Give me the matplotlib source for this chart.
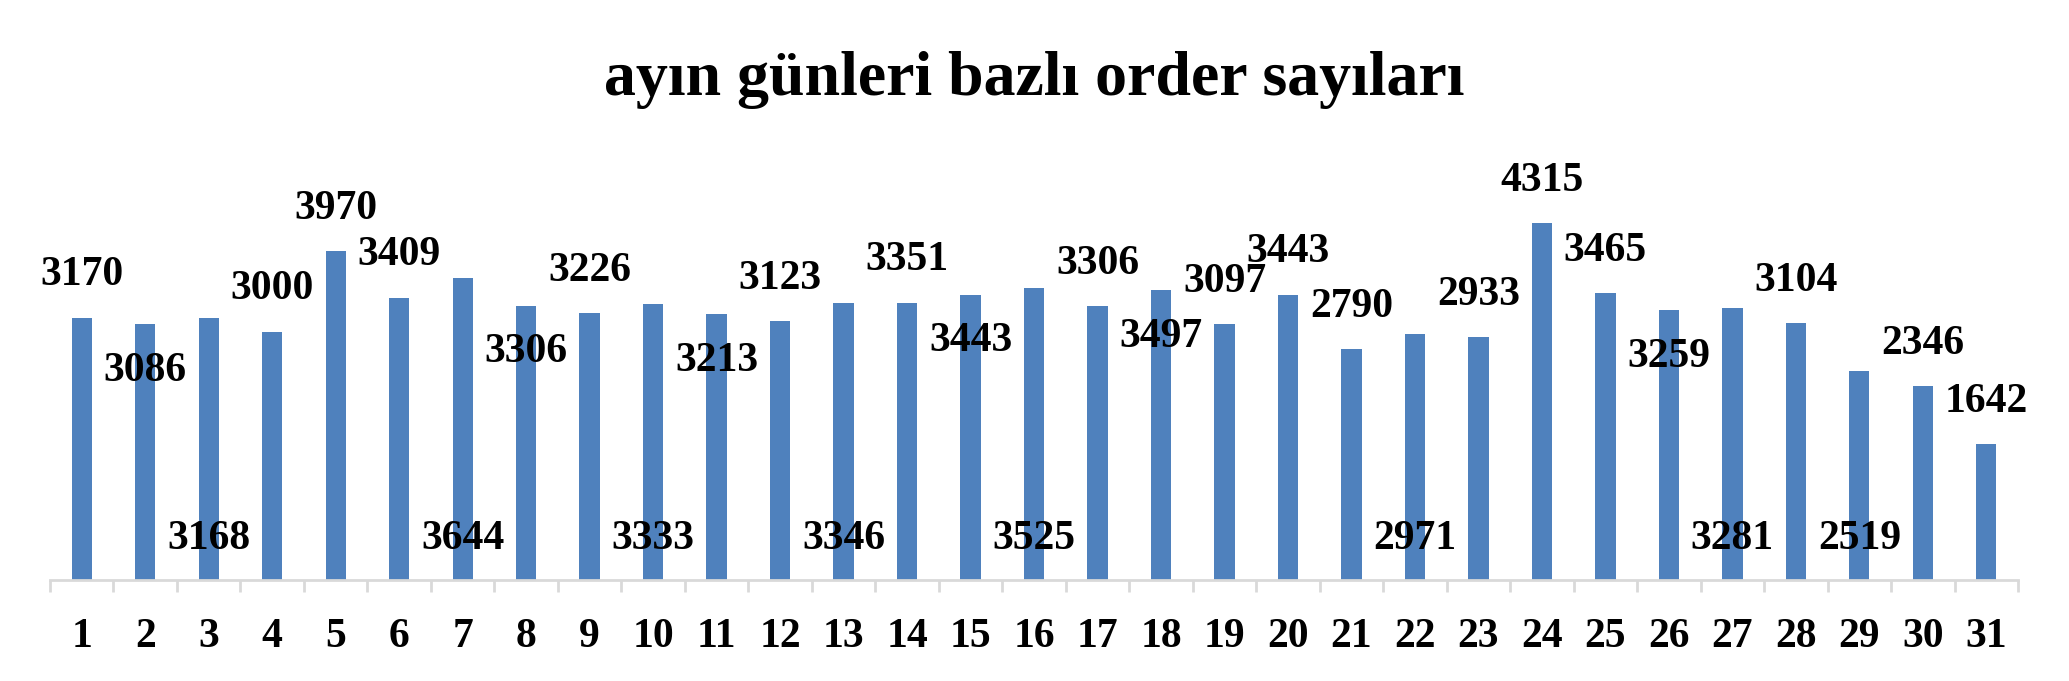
import numpy as np
import matplotlib.pyplot as plt

# gün ve order sayıları
days = [str(d) for d in range(1, 32)]
orders = [3170, 3086, 3168, 3000, 3970, 3409, 3644, 3306, 3226, 3333,
          3213, 3123, 3346, 3351, 3443, 3525, 3306, 3497, 3097, 3443,
          2790, 2971, 2933, 4315, 3465, 3259, 3281, 3104, 2519, 2346, 1642]

# etiketlerin dikey konumu (veri biriminde), orijinal grafikteki gibi
label_y = [3684, 2528, 495, 3514, 4481, 3921, 495, 2750, 3736, 495,
           2649, 3635, 495, 3861, 2890, 495, 3816, 2931, 3595, 3957,
           3293, 495, 3442, 4823, 3973, 2693, 495, 3615, 495, 2850, 2146]

plt.rcParams['font.family'] = ['Liberation Serif', 'DejaVu Serif']
plt.rcParams['font.weight'] = 'bold'

fig = plt.figure(figsize=(20.69, 6.81), dpi=100)
ax = fig.add_axes([0.02417, 0.1483, 0.9512, 0.6079])

x = np.arange(len(days))
ax.bar(x, orders, width=0.32, color='#4F81BD', zorder=2)

for xi, v, ly in zip(x, orders, label_y):
    ax.text(xi, ly, str(v), ha='center', va='center', fontsize=30,
            fontweight='bold', clip_on=False, zorder=3)

ax.set_xlim(-0.5, len(days) - 0.5)
ax.set_ylim(0, 5000)

# kategori sınırlarında tick çizgileri
ax.set_xticks(np.arange(-0.5, len(days)), minor=False)
ax.set_xticklabels([])
ax.set_xticks(x, minor=True)
ax.set_xticklabels(days, minor=True, fontsize=30, fontweight='bold')
ax.tick_params(axis='x', which='major', length=8.5, width=2, color='#D9D9D9')
ax.tick_params(axis='x', which='minor', length=0, pad=27)
ax.set_yticks([])

for side in ['top', 'right', 'left']:
    ax.spines[side].set_visible(False)
ax.spines['bottom'].set_color('#D9D9D9')
ax.spines['bottom'].set_linewidth(2)

fig.text(0.5, 1 - 95 / 681, 'ayın günleri bazlı order sayıları', ha='center',
         va='baseline', fontsize=46, fontweight='bold')

fig.savefig('out.png', dpi=100)
